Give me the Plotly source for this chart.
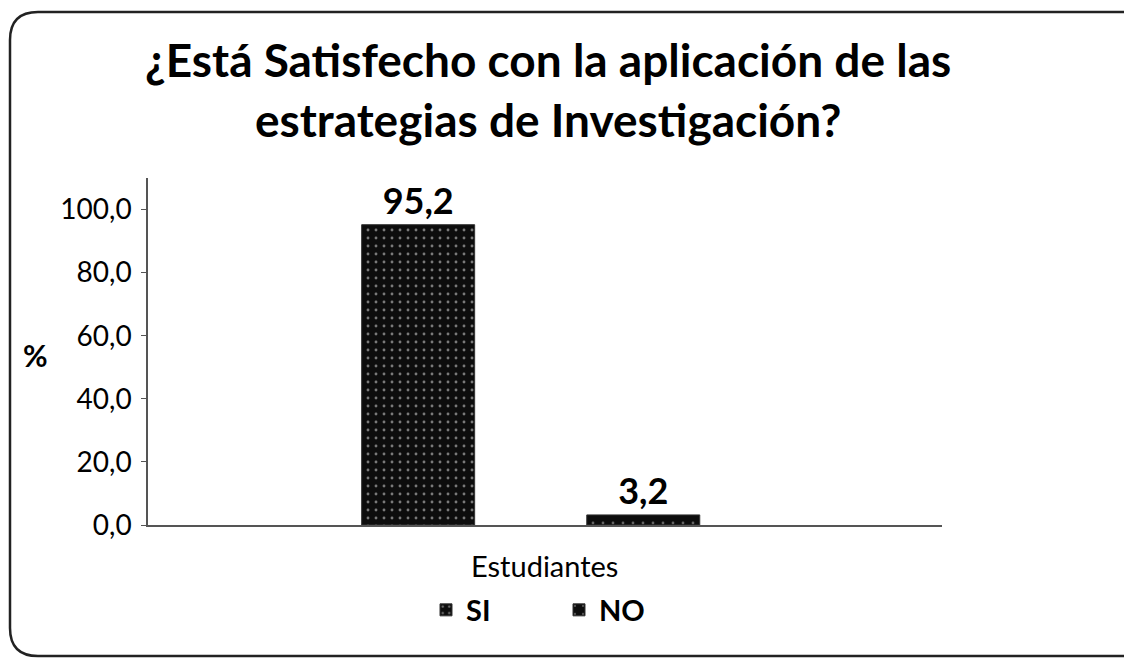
import plotly.graph_objects as go

# datos del grafico
categorias = ["Estudiantes"]
series = ["SI", "NO"]
valores_si = [95.2]
valores_no = [3.2]

OFF = 8  # margen del body de la pagina
W, H = 1132 - OFF, 662 - OFF
L, R, T, B = 148 - OFF, 190, 178 - OFF, 137
pw, ph = W - L - R, H - T - B


def px2paper(x, y):
    # coordenadas de pantalla -> coordenadas paper
    return (x - OFF - L) / pw, (H - B - (y - OFF)) / ph


def borde_redondeado(x0, y0, x1, y1, r):
    pts = [
        ("M", [(x0 + r, y0)]),
        ("L", [(x1 - r, y0)]),
        ("Q", [(x1, y0), (x1, y0 + r)]),
        ("L", [(x1, y1 - r)]),
        ("Q", [(x1, y1), (x1 - r, y1)]),
        ("L", [(x0 + r, y1)]),
        ("Q", [(x0, y1), (x0, y1 - r)]),
        ("L", [(x0, y0 + r)]),
        ("Q", [(x0, y0), (x0 + r, y0)]),
    ]
    s = ""
    for cmd, coords in pts:
        s += cmd + " ".join("%.5f,%.5f" % px2paper(cx, cy) for cx, cy in coords) + " "
    return s + "Z"


fuente = "Lato"

fig = go.Figure()
fig.add_trace(go.Bar(
    x=categorias, y=valores_si, name=series[0],
    marker=dict(color="#0d0d0d", line=dict(color="#333", width=1),
                pattern=dict(shape=".", fgcolor="#e8e8e8", bgcolor="#0d0d0d", size=8, solidity=0.1)),
    texttemplate="%{y:.1f}", textposition="outside", cliponaxis=False,
    textfont=dict(family=fuente, size=36, color="black", weight="bold"),
))
fig.add_trace(go.Bar(
    x=categorias, y=valores_no, name=series[1],
    marker=dict(color="#0d0d0d", line=dict(color="#333", width=1),
                pattern=dict(shape=".", fgcolor="#bbbbbb", bgcolor="#0d0d0d", size=10, solidity=0.06)),
    texttemplate="%{y:.1f}", textposition="outside", cliponaxis=False,
    textfont=dict(family=fuente, size=36, color="black", weight="bold"),
))

fig.update_layout(
    width=W, height=H,
    margin=dict(l=L, r=R, t=T, b=B),
    paper_bgcolor="white", plot_bgcolor="white",
    separators=",.",
    barmode="group", bargap=0.433, bargroupgap=0.498,
    font=dict(family=fuente, color="black"),
    legend=dict(orientation="h", x=px2paper(559, 0)[0], xanchor="center",
                y=px2paper(0, 610)[1], yanchor="middle",
                font=dict(size=29, family=fuente, weight="bold"),
                itemwidth=30, traceorder="normal", entrywidth=88),
    showlegend=True,
)

# titulo
fig.add_annotation(text="<b>¿Está Satisfecho con la aplicación de las<br>estrategias de Investigación?</b>",
                   x=px2paper(548, 0)[0], y=px2paper(0, 30)[1], xref="paper", yref="paper",
                   xanchor="center", yanchor="top", showarrow=False,
                   font=dict(size=46, family=fuente, color="black"))

# nombre de la categoria
fig.add_annotation(text=categorias[0], x=px2paper(544, 0)[0], y=px2paper(0, 565)[1],
                   xref="paper", yref="paper", xanchor="center", yanchor="middle", showarrow=False,
                   font=dict(size=29, family=fuente, color="black"))

fig.update_xaxes(range=[-0.5 + 0.018, 0.5 + 0.018], showline=True, linecolor="#555", linewidth=1.5,
                 ticks="", showticklabels=False)
fig.update_yaxes(range=[0, 110], tickvals=[0, 20, 40, 60, 80, 100], tickformat=".1f",
                 showline=True, linecolor="#555", linewidth=1.5, showgrid=False, zeroline=False,
                 ticks="outside", ticklen=5, tickcolor="#555", ticklabelstandoff=4,
                 tickfont=dict(size=28, family=fuente))

# etiqueta del eje y
fig.add_annotation(text="<b>%</b>", x=px2paper(35, 0)[0], y=px2paper(0, 355)[1],
                   xref="paper", yref="paper", xanchor="center", yanchor="middle", showarrow=False,
                   font=dict(size=30, family=fuente, color="black"))

# marco del grafico
fig.add_shape(type="path", xref="paper", yref="paper",
              path=borde_redondeado(10, 12, 1150, 656, 28),
              line=dict(color="#222", width=2.5), layer="below")

fig.write_html("out.html")
